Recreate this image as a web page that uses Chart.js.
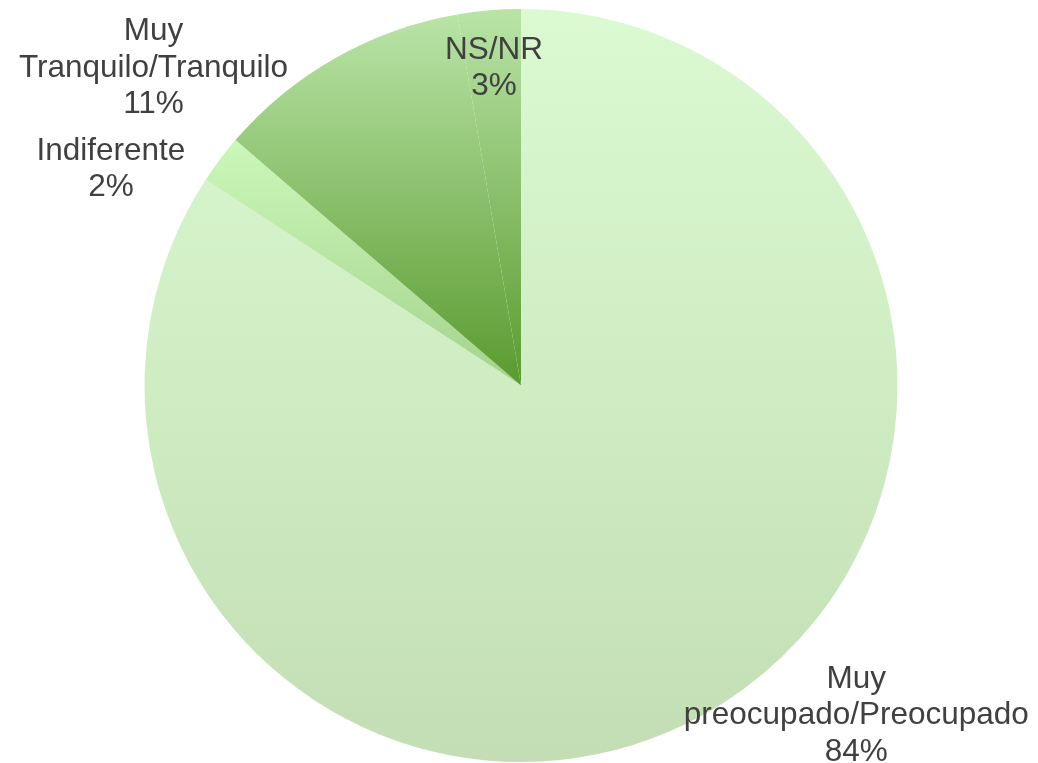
<!DOCTYPE html>
<html>
<head>
<meta charset="utf-8">
<script src="https://cdn.jsdelivr.net/npm/chart.js@4/dist/chart.umd.min.js"></script>
<style>
    html, body { margin: 0; padding: 0; background: #fff; }
    #wrap { width: 1038px; height: 763px; }
</style>
</head>
<body>
<div id="wrap"><canvas id="myChart"></canvas></div>
<script>
// data
const categories = [
    ['Muy', 'preocupado/Preocupado'],
    ['Indiferente'],
    ['Muy', 'Tranquilo/Tranquilo'],
    ['NS/NR']
];
const values = [84.2, 2.1, 11.0, 2.7];
const percentLabels = ['84%', '2%', '11%', '3%'];

// gradient colours per slice (top -> bottom)
const topColors = ['#dbfad1', '#cbf7b9', '#b9e4a7', '#b9e4a7'];
const bottomColors = ['#c3deb5', '#a6d28e', '#5a9a2e', '#5a9a2e'];

// where each label sits relative to the outer point of its slice
const labelNudge = [[156, -1], [-109, 10], [-182, 10], [5, 58]];

const total = values.reduce((a, b) => a + b, 0);

// vertical extent of a slice, for the gradient
function sliceBox(i, cy, r) {
    let a1 = -Math.PI / 2;
    for (let k = 0; k < i; k++) a1 += values[k] / total * Math.PI * 2;
    const a2 = a1 + values[i] / total * Math.PI * 2;
    const ys = [cy, cy + r * Math.sin(a1), cy + r * Math.sin(a2)];
    const has = (a) => {
        for (let t = a - 4 * Math.PI; t <= a + 4 * Math.PI; t += 2 * Math.PI) {
            if (t >= a1 && t <= a2) return true;
        }
        return false;
    };
    if (has(-Math.PI / 2)) ys.push(cy - r);
    if (has(Math.PI / 2)) ys.push(cy + r);
    return [Math.min(...ys), Math.max(...ys)];
}

const sliceFill = (ctx) => {
    const chart = ctx.chart;
    const area = chart.chartArea;
    const i = ctx.dataIndex;
    if (!area) return topColors[i];
    const cy = (area.top + area.bottom) / 2;
    const r = Math.min(area.right - area.left, area.bottom - area.top) / 2;
    const [y0, y1] = sliceBox(i, cy, r);
    const g = chart.ctx.createLinearGradient(0, y0, 0, y1);
    g.addColorStop(0, topColors[i]);
    g.addColorStop(1, bottomColors[i]);
    return g;
};

const pieLabels = {
    id: 'pieLabels',
    afterDatasetsDraw(chart) {
        const ctx = chart.ctx;
        const meta = chart.getDatasetMeta(0);
        ctx.save();
        ctx.font = '31.5px "Liberation Sans", Arial, sans-serif';
        ctx.fillStyle = '#404040';
        ctx.textAlign = 'center';
        ctx.textBaseline = 'middle';
        const lineH = 36.5;
        meta.data.forEach((arc, i) => {
            const p = arc.getProps(['x', 'y', 'startAngle', 'endAngle', 'outerRadius'], true);
            const mid = (p.startAngle + p.endAngle) / 2;
            const x = p.x + p.outerRadius * Math.cos(mid) + labelNudge[i][0];
            const y = p.y + p.outerRadius * Math.sin(mid) + labelNudge[i][1];
            const lines = categories[i].concat([percentLabels[i]]);
            const startY = y - (lines.length - 1) * lineH / 2;
            lines.forEach((t, k) => ctx.fillText(t, x, startY + k * lineH));
        });
        ctx.restore();
    }
};

const data = {
    labels: categories.map(c => c.join(' ')),
    datasets: [{
        data: values,
        backgroundColor: sliceFill,
        borderWidth: 0
    }]
};

const config = {
    type: 'pie',
    data: data,
    options: {
        responsive: true,
        maintainAspectRatio: false,
        animation: false,
        layout: { padding: { top: 9, bottom: 1, left: 4, right: 0 } },
        plugins: {
            legend: { display: false },
            tooltip: { enabled: false }
        }
    },
    plugins: [pieLabels]
};

const myChart = new Chart(document.getElementById('myChart'), config);
</script>
</body>
</html>
